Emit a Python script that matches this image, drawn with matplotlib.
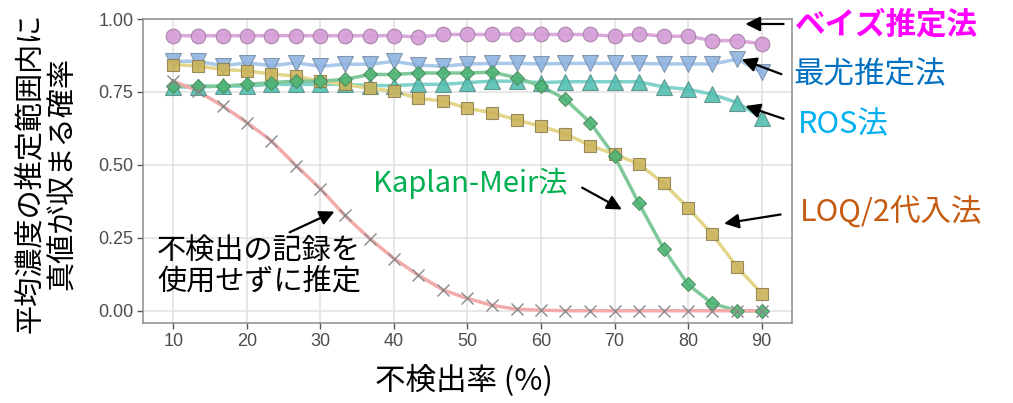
import matplotlib
matplotlib.use("Agg")
import matplotlib.pyplot as plt

plt.rcParams['font.family'] = ['Noto Sans CJK JP', 'DejaVu Sans']

# non-detect rate (%)
rates = [10, 13.3, 16.7, 20, 23.3, 26.7, 30, 33.3, 36.7, 40, 43.3, 46.7, 50,
         53.3, 56.7, 60, 63.3, 66.7, 70, 73.3, 76.7, 80, 83.3, 86.7, 90]

# coverage probability for each estimation method
bayes = [0.943, 0.943, 0.943, 0.943, 0.943, 0.943, 0.943, 0.943, 0.943, 0.943,
         0.938, 0.947, 0.947, 0.947, 0.949, 0.947, 0.947, 0.947, 0.941, 0.949,
         0.941, 0.941, 0.926, 0.926, 0.915]
mle = [0.855, 0.855, 0.840, 0.850, 0.840, 0.850, 0.838, 0.845, 0.845, 0.855,
       0.842, 0.838, 0.846, 0.848, 0.848, 0.846, 0.848, 0.848, 0.848, 0.848,
       0.846, 0.846, 0.846, 0.862, 0.818]
ros = [0.767, 0.767, 0.770, 0.770, 0.776, 0.776, 0.776, 0.776, 0.772, 0.772,
       0.776, 0.776, 0.782, 0.787, 0.787, 0.782, 0.785, 0.785, 0.785, 0.785,
       0.767, 0.759, 0.742, 0.713, 0.662]
km = [0.770, 0.770, 0.770, 0.776, 0.782, 0.787, 0.787, 0.793, 0.810, 0.810,
      0.815, 0.815, 0.815, 0.818, 0.799, 0.770, 0.725, 0.645, 0.530, 0.369,
      0.212, 0.090, 0.025, 0.0, 0.0]
loq2 = [0.844, 0.839, 0.827, 0.822, 0.812, 0.804, 0.787, 0.776, 0.762, 0.753,
        0.728, 0.719, 0.694, 0.679, 0.654, 0.632, 0.607, 0.566, 0.537, 0.503,
        0.437, 0.353, 0.262, 0.150, 0.059]
nd_excluded = [0.787, 0.753, 0.702, 0.645, 0.583, 0.497, 0.418, 0.327, 0.247,
               0.179, 0.122, 0.071, 0.042, 0.019, 0.005, 0.002, 0.0, 0.0, 0.0,
               0.0, 0.0, 0.0, 0.0, 0.0, 0.0]

fig = plt.figure(figsize=(10.13, 4.03), dpi=100)
ax = fig.add_axes([0.1415, 0.1978, 0.64, 0.755])

ax.grid(True, color='#e3e3e3', lw=1.2)
ax.set_axisbelow(True)

lw = 2.5
# series: (values, marker, marker size, line colour, fill, edge)
series = [
    (mle, 'v', 11.5, '#a8c8ec', '#8fb4e2', '#7a8fa8'),
    (ros, '^', 11.5, '#7fd3cb', '#52c0b2', '#5a8f88'),
    (loq2, 's', 8.5, '#e3d68a', '#cbb45a', '#8f8050'),
    (km, 'D', 7.5, '#7ec89a', '#4db574', '#4a8a5e'),
]
for vals, mk, ms, lc, fc, ec in series:
    ax.plot(rates, vals, color=lc, lw=lw, zorder=2)
    ax.plot(rates, vals, ls='none', marker=mk, ms=ms, mfc=fc, mec=ec,
            mew=0.8, alpha=0.9, zorder=3)

ax.plot(rates, nd_excluded, color='#f2aaaa', lw=lw, zorder=2)
ax.plot(rates, nd_excluded, ls='none', marker='x', ms=9, mec='#8a8a8a',
        mew=1.0, zorder=3)

ax.plot(rates, bayes, color='#dba8dc', lw=lw, zorder=2)
ax.plot(rates, bayes, ls='none', marker='o', ms=10.5, mfc='#d6a0d8',
        mec='#a882a8', mew=0.8, alpha=0.95, zorder=3)

ax.set_xlim(5.9, 94.1)
ax.set_ylim(-0.043, 1.0)
ax.set_xticks([10, 20, 30, 40, 50, 60, 70, 80, 90])
ax.set_yticks([0.0, 0.25, 0.5, 0.75, 1.0])
ax.set_yticklabels(['0.00', '0.25', '0.50', '0.75', '1.00'])
ax.tick_params(length=4, width=1, color='#555555', labelcolor='#4d4d4d',
               labelsize=13, pad=3)
for lab in ax.get_xticklabels() + ax.get_yticklabels():
    lab.set_fontfamily('Liberation Sans')
for sp in ax.spines.values():
    sp.set_color('#8c8c8c')
    sp.set_linewidth(1.1)

fig.text(0.046, 0.570, '平均濃度の推定範囲内に\n真値が収まる確率', rotation=90,
         ha='center', va='center', multialignment='center', fontsize=21,
         linespacing=1.1)
fig.text(0.458, 0.054, '不検出率 (%)', ha='center', va='center', fontsize=22)

# method labels
fig.text(0.785, 0.938, 'ベイズ推定法', color='#ff00ff', fontsize=22,
         fontweight='bold', ha='left', va='center')
fig.text(0.783, 0.814, '最尤推定法', color='#0070c0', fontsize=22,
         ha='left', va='center')
fig.text(0.788, 0.690, 'ROS法', color='#00b0f0', fontsize=22,
         ha='left', va='center')
fig.text(0.790, 0.474, 'LOQ/2代入法', color='#c55a11', fontsize=22,
         ha='left', va='center')
fig.text(0.368, 0.546, 'Kaplan-Meir法', color='#00b050', fontsize=21,
         ha='left', va='center')
fig.text(0.155, 0.338, '不検出の記録を\n使用せずに推定', color='black', fontsize=21,
         ha='left', va='center', linespacing=1.1)

arrow = dict(arrowstyle='-|>', color='black', lw=1.6, mutation_scale=22,
             shrinkA=0, shrinkB=0)
arrows = [
    ((87.8, 0.983), (93.0, 0.983)),
    ((87.3, 0.862), (92.7, 0.811)),
    ((87.8, 0.702), (93.0, 0.658)),
    ((84.9, 0.299), (92.6, 0.330)),
    ((71.0, 0.347), (65.6, 0.422)),
    ((31.9, 0.340), (25.8, 0.269)),
]
for tip, tail in arrows:
    ax.annotate('', xy=tip, xytext=tail, arrowprops=arrow,
                annotation_clip=False, zorder=5)

fig.savefig('out.png', dpi=100)
